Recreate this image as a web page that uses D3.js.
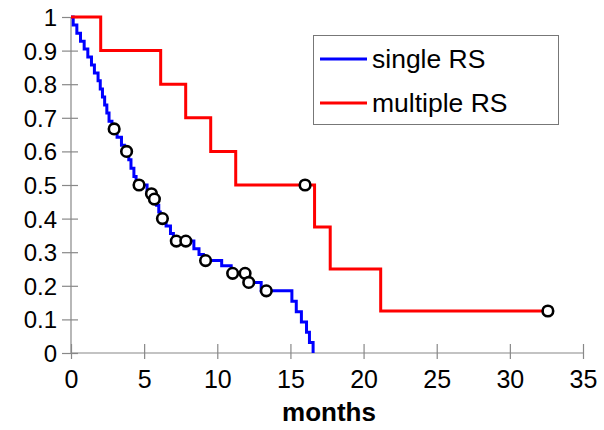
<!DOCTYPE html>
<html><head><meta charset="utf-8">
<script src="https://cdn.jsdelivr.net/npm/d3@7"></script>
<style>body{margin:0;background:#fff}svg{display:block}text{font-family:"Liberation Sans",Arial,Helvetica,sans-serif}</style>
</head><body>
<svg id="c" width="604" height="430"></svg>
<script>
// ---- data ----
const singleEventTimes = [0.15,0.4,0.65,0.9,1.15,1.4,1.6,1.85,2.0,2.15,2.3,2.45,2.6,2.8,3.15,3.45,3.65,3.95,4.1,4.3,4.45,5.2,5.6,5.85,6.0,6.1,6.5,6.8,7.0,8.4,8.75,9.05,10.3,10.95,12.0,13.0,15.1,15.4,15.75,16.1,16.3,16.55];
const singleSurvival   = [0.976,0.952,0.928,0.905,0.881,0.857,0.833,0.81,0.786,0.762,0.738,0.714,0.69,0.667,0.642,0.618,0.60,0.575,0.55,0.525,0.50,0.474,0.458,0.44,0.42,0.40,0.378,0.356,0.333,0.31,0.293,0.275,0.26,0.237,0.21,0.185,0.154,0.123,0.092,0.062,0.031,0];
const singleCensored   = [2.95,3.8,4.65,5.5,5.7,6.25,7.2,7.85,9.2,11.05,11.9,12.15,13.35];
const multipleEventTimes = [2.03,6.13,7.84,9.55,11.26,16.65,17.72,21.17];
const multipleSurvival   = [0.9,0.8,0.7,0.6,0.5,0.375,0.25,0.125];
const multipleCensored   = [16.0,32.6];
const xTicks = [0,5,10,15,20,25,30,35];
const yTicks = [0,0.1,0.2,0.3,0.4,0.5,0.6,0.7,0.8,0.9,1];
const seriesNames = ["single RS","multiple RS"];
const seriesColors = ["#0000ff","#ff0000"];
const xLabel = "months";

// ---- drawing ----
const W=604,H=430, m={l:71,r:21,t:17,b:77};
const svg=d3.select("#c");
const x=d3.scaleLinear().domain([0,35]).range([m.l,W-m.r]);
const y=d3.scaleLinear().domain([0,1]).range([H-m.b,m.t]);
const axisCol="#888";

// axes
const gx=svg.append("g").attr("transform",`translate(0,${y(0)})`)
  .call(d3.axisBottom(x).tickValues(xTicks).tickSize(0).tickFormat(d=>d));
gx.selectAll(".tick line").remove();
gx.selectAll(".tick").append("line").attr("y1",-9).attr("y2",6).attr("stroke",axisCol).attr("stroke-width",1.2);
gx.selectAll(".tick text").attr("y",17).attr("dy","0.71em").attr("font-size",25).attr("fill","#000");

const gy=svg.append("g").attr("transform",`translate(${x(0)},0)`)
  .call(d3.axisLeft(y).tickValues(yTicks).tickSize(0).tickFormat(d=>d3.format("")(d)));
gy.selectAll(".tick").append("line").attr("x1",-9).attr("x2",7).attr("stroke",axisCol).attr("stroke-width",1.2);
gy.selectAll(".tick text").attr("x",-14).attr("dy","0.35em").attr("font-size",24).attr("fill","#000");
svg.selectAll(".domain").remove();
svg.append("line").attr("x1",x(0)).attr("x2",x(35)).attr("y1",y(0)).attr("y2",y(0)).attr("stroke",axisCol).attr("stroke-width",1.2);
svg.append("line").attr("x1",x(0)).attr("x2",x(0)).attr("y1",y(0)).attr("y2",y(1)).attr("stroke",axisCol).attr("stroke-width",1.2);

svg.append("text").attr("x",329).attr("y",421).attr("text-anchor","middle")
  .attr("font-size",26).attr("font-weight","bold").text(xLabel);

function stepFn(times,surv){return t=>{let s=1;for(let i=0;i<times.length;i++){if(times[i]<=t)s=surv[i];}return s;};}
function pts(times,surv,end){const p=[[0,1]];times.forEach((t,i)=>p.push([t,surv[i]]));if(end!=null)p.push([end,surv[surv.length-1]]);return p;}
const line=d3.line().x(d=>x(d[0])).y(d=>y(d[1])).curve(d3.curveStepAfter);

const series=[
 {times:singleEventTimes,surv:singleSurvival,cens:singleCensored,end:null},
 {times:multipleEventTimes,surv:multipleSurvival,cens:multipleCensored,end:32.6}
];
series.forEach((s,i)=>{
  svg.append("path").attr("d",line(pts(s.times,s.surv,s.end))).attr("fill","none")
    .attr("stroke",seriesColors[i]).attr("stroke-width",3).attr("stroke-linejoin","miter");
});
series.forEach((s,i)=>{
  const f=stepFn(s.times,s.surv);
  svg.selectAll(null).data(s.cens).join("circle").attr("cx",d=>x(d)).attr("cy",d=>y(f(d)))
    .attr("r",5.3).attr("fill","#fff").attr("stroke","#000").attr("stroke-width",2.6);
});

// legend
const lg=svg.append("g");
lg.append("rect").attr("x",313.5).attr("y",35.5).attr("width",245).attr("height",89).attr("fill","#fff").attr("stroke","#777").attr("stroke-width",1);
seriesNames.forEach((n,i)=>{
  const yy=59+i*44;
  lg.append("line").attr("x1",320).attr("x2",367).attr("y1",yy).attr("y2",yy).attr("stroke",seriesColors[i]).attr("stroke-width",3);
  lg.append("text").attr("x",372).attr("y",yy).attr("dy","0.35em").attr("font-size",26.5).text(n);
});
</script>
</body></html>
